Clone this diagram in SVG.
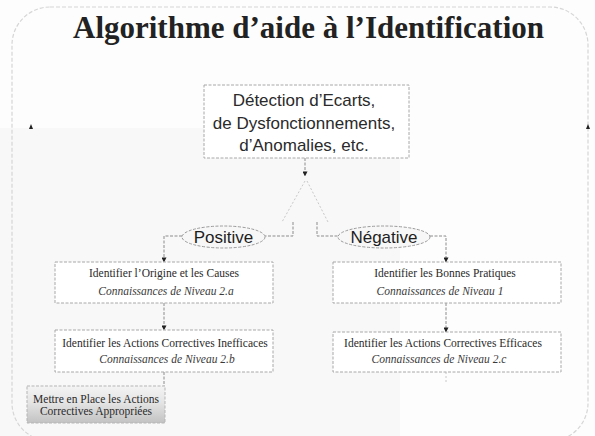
<svg xmlns="http://www.w3.org/2000/svg" width="595" height="436" viewBox="0 0 595 436">
  <defs>
    <marker id="ah" viewBox="0 0 6 6" refX="5.5" refY="3" markerWidth="5" markerHeight="5" orient="auto" markerUnits="userSpaceOnUse">
      <path d="M0,0 L6,3 L0,6 Z" fill="#222"/>
    </marker>
    <linearGradient id="grey" x1="0" y1="0" x2="0" y2="1">
      <stop offset="0" stop-color="#f4f4f4"/>
      <stop offset="0.45" stop-color="#e4e4e4"/>
      <stop offset="1" stop-color="#c2c2c2"/>
    </linearGradient>
    <style>
      .frame { fill: none; stroke: #d6d6d6; stroke-width: 1.2; stroke-dasharray: 4 2; }
      .box { fill: #ffffff; stroke: #a8a8a8; stroke-width: 1; stroke-dasharray: 3 1.5; }
      .ell { fill: #f7f7f7; stroke: #9a9a9a; stroke-width: 1; stroke-dasharray: 3 1.5; }
      .conn { fill: none; stroke: #8c8c8c; stroke-width: 1; stroke-dasharray: 3 1.5; }
      .faint { fill: none; stroke: #c8c8c8; stroke-width: 1; stroke-dasharray: 2 2; }
      .title { font-family: "Liberation Serif", "DejaVu Serif", serif; font-weight: bold; font-size: 31px; fill: #222222; }
      .sans { font-family: "Liberation Sans", Arial, sans-serif; font-size: 17px; fill: #2a2a2a; }
      .lab { font-family: "Liberation Sans", Arial, sans-serif; font-size: 17px; fill: #1e1e1e; }
      .t1 { font-family: "Liberation Serif", "Times New Roman", serif; font-size: 11.5px; fill: #2a2a2a; }
      .t2 { font-family: "Liberation Serif", "Times New Roman", serif; font-size: 11.5px; font-style: italic; fill: #3a3a3a; }
    </style>
  </defs>

  <rect x="0" y="0" width="595" height="436" fill="#fdfdfd"/>
  <rect x="0" y="128" width="400" height="308" fill="#f8f8f8"/>
  <rect x="12" y="7" width="576" height="434" rx="38" ry="38" class="frame"/>
  <path d="M29,129 L31,124 L33,129 Z" fill="#222"/>
  <path d="M586,129 L588,124 L590,129 Z" fill="#222"/>

  <text class="title" x="308.5" y="38" text-anchor="middle">Algorithme d’aide à l’Identification</text>

  <g id="connectors">
    <line class="conn" x1="305" y1="158" x2="305" y2="176" marker-end="url(#ah)"/>
    <path class="faint" d="M305,181 L282,222 M307,181 L328,222"/>
    <path class="conn" d="M293,222 L293,236 L265,236"/>
    <path class="conn" d="M317,222 L317,236 L338,236"/>
    <path class="conn" d="M182,236 L164,236 L164,262" marker-end="url(#ah)"/>
    <path class="conn" d="M430,236 L446,236 L446,262" marker-end="url(#ah)"/>
    <line class="conn" x1="164" y1="303" x2="164" y2="330" marker-end="url(#ah)"/>
    <line class="conn" x1="446" y1="303" x2="446" y2="332" marker-end="url(#ah)"/>
    <line class="conn" x1="164" y1="372" x2="164" y2="386"/>
    <line class="faint" x1="446" y1="372" x2="446" y2="382"/>
  </g>

  <g id="detection">
    <rect class="box" x="204" y="85" width="205" height="73"/>
    <text class="sans" x="304" y="106" text-anchor="middle">Détection d’Ecarts,</text>
    <text class="sans" x="304" y="129" text-anchor="middle">de Dysfonctionnements,</text>
    <text class="sans" x="304" y="151" text-anchor="middle">d’Anomalies, etc.</text>
  </g>

  <g id="positive">
    <ellipse class="ell" cx="223.5" cy="237" rx="41.5" ry="11"/>
    <text class="lab" x="223.5" y="243" text-anchor="middle">Positive</text>
  </g>

  <g id="negative">
    <ellipse class="ell" cx="384" cy="237" rx="46" ry="11"/>
    <text class="lab" x="384" y="243" text-anchor="middle">Négative</text>
  </g>

  <g id="origine">
    <rect class="box" x="55" y="262" width="218" height="41"/>
    <text class="t1" x="164" y="277" text-anchor="middle">Identifier l’Origine et les Causes</text>
    <text class="t2" x="166" y="295" text-anchor="middle">Connaissances de Niveau 2.a</text>
  </g>

  <g id="inefficaces">
    <rect class="box" x="55" y="330" width="218" height="42"/>
    <text class="t1" x="165" y="347" text-anchor="middle">Identifier les Actions Correctives Inefficaces</text>
    <text class="t2" x="167" y="363" text-anchor="middle">Connaissances de Niveau 2.b</text>
  </g>

  <g id="bonnes-pratiques">
    <rect class="box" x="333" y="262" width="228" height="41"/>
    <text class="t1" x="445" y="277" text-anchor="middle">Identifier les Bonnes Pratiques</text>
    <text class="t2" x="440" y="295" text-anchor="middle">Connaissances de Niveau 1</text>
  </g>

  <g id="efficaces">
    <rect class="box" x="333" y="332" width="228" height="40"/>
    <text class="t1" x="443" y="347" text-anchor="middle">Identifier  les Actions Correctives Efficaces</text>
    <text class="t2" x="439" y="363" text-anchor="middle">Connaissances de Niveau 2.c</text>
  </g>

  <g id="mettre">
    <rect x="27" y="386" width="138" height="37" fill="url(#grey)" stroke="#b5b5b5" stroke-width="1" stroke-dasharray="3 1.5"/>
    <text class="t1" x="96" y="403" text-anchor="middle">Mettre en Place les Actions</text>
    <text class="t1" x="96" y="415" text-anchor="middle">Correctives Appropriées</text>
  </g>
</svg>
